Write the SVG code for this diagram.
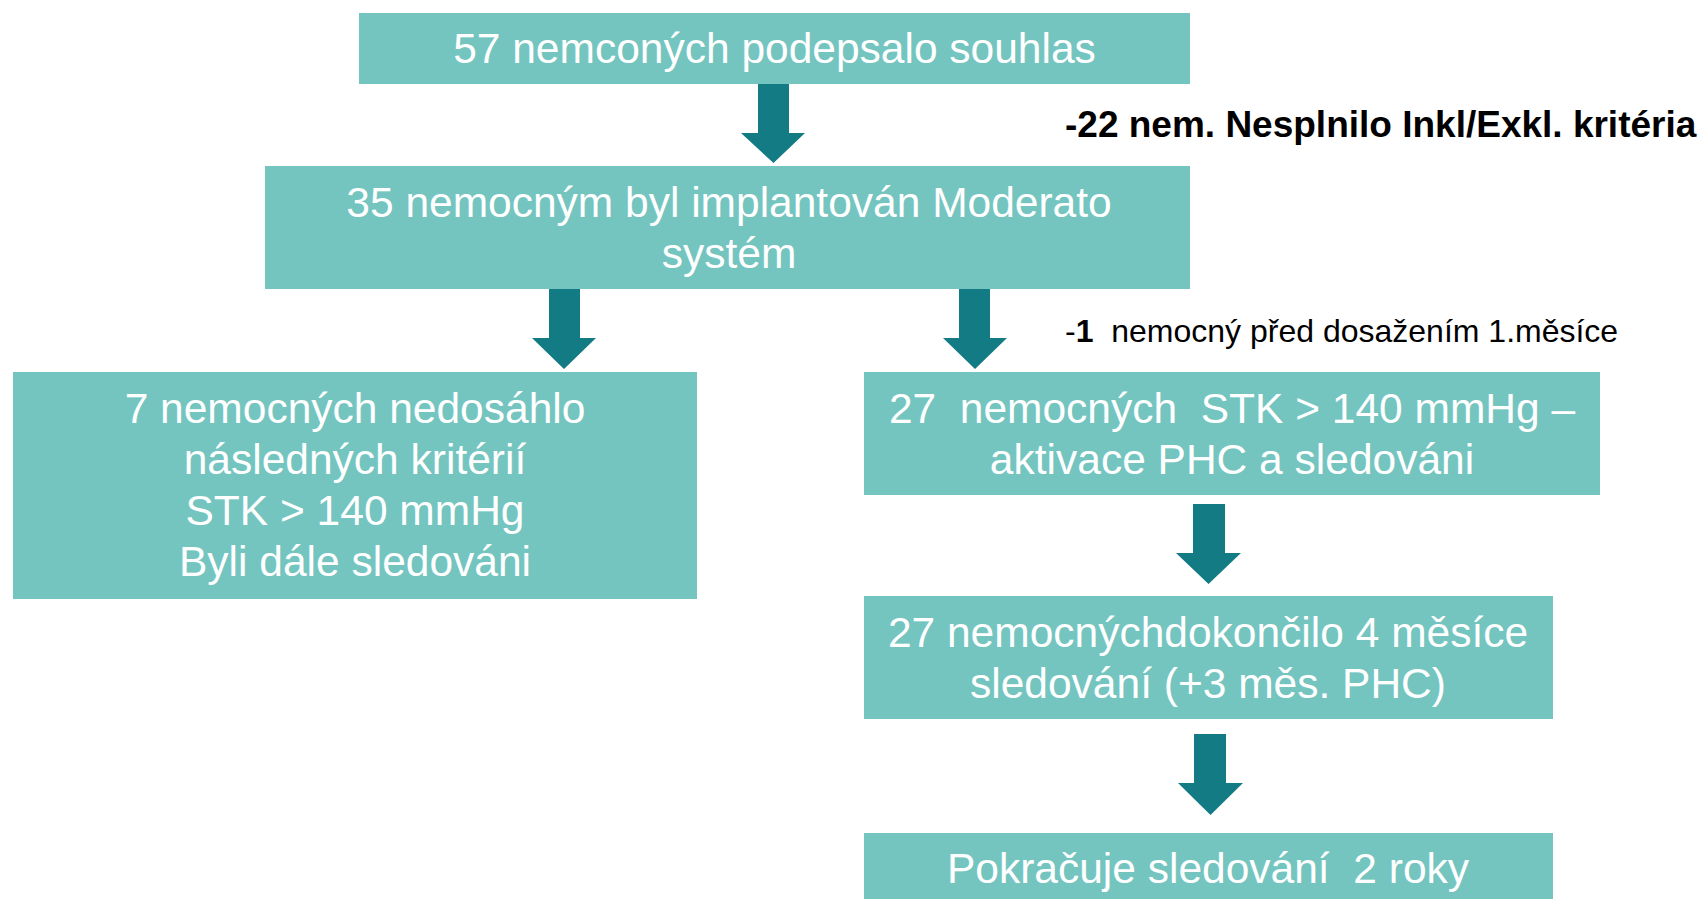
<svg xmlns="http://www.w3.org/2000/svg" width="1705" height="899" viewBox="0 0 1705 899">
<style>
.box{fill:#74C5C0}
.arr{fill:#127B84}
.t{font-family:"Liberation Sans",Arial,sans-serif;font-size:42.5px;fill:#fff;text-anchor:middle;white-space:pre}
.n{font-family:"Liberation Sans",Arial,sans-serif;fill:#000;white-space:pre}
</style>
<rect width="1705" height="899" fill="#fff"/>
<g id="connectors">
<polygon class="arr" points="758,83 789,83 789,133 805,133 773.5,163 741,133 758,133"/>
<polygon class="arr" points="549,289 580,289 580,338 596,338 564,369 532,338 549,338"/>
<polygon class="arr" points="959,289 990,289 990,338 1007,338 975,369 943,338 959,338"/>
<polygon class="arr" points="1193,504 1225,504 1225,553 1241,553 1208.5,584 1176,553 1193,553"/>
<polygon class="arr" points="1194,734 1226,734 1226,783 1243,783 1210.5,815 1178,783 1194,783"/>
</g>
<g id="n1">
<rect class="box" x="359" y="13" width="831" height="71"/>
<text class="t" x="774.5" y="63">57 nemconých podepsalo souhlas</text>
</g>
<g id="n2">
<rect class="box" x="265" y="166" width="925" height="123"/>
<text class="t" x="729" y="217">35 nemocným byl implantován Moderato</text>
<text class="t" x="729" y="268">systém</text>
</g>
<g id="n3">
<rect class="box" x="13" y="372" width="684" height="227"/>
<text class="t" x="355" y="423">7 nemocných nedosáhlo</text>
<text class="t" x="355" y="474">následných kritérií</text>
<text class="t" x="355" y="525">STK &gt; 140 mmHg</text>
<text class="t" x="355" y="576">Byli dále sledováni</text>
</g>
<g id="n4">
<rect class="box" x="864" y="372" width="736" height="123"/>
<text class="t" x="1232" y="423">27  nemocných  STK &gt; 140 mmHg –</text>
<text class="t" x="1232" y="474">aktivace PHC a sledováni</text>
</g>
<g id="n5">
<rect class="box" x="864" y="596" width="689" height="123"/>
<text class="t" x="1208" y="647">27 nemocnýchdokončilo 4 měsíce</text>
<text class="t" x="1208" y="698">sledování (+3 měs. PHC)</text>
</g>
<g id="n6">
<rect class="box" x="864" y="833" width="689" height="66"/>
<text class="t" x="1208" y="883">Pokračuje sledování  2 roky</text>
</g>
<g id="labels">
<text class="n" x="1065" y="137" font-size="37" font-weight="bold">-22 nem. Nesplnilo Inkl/Exkl. kritéria</text>
<text class="n" x="1065" y="342" font-size="32">-<tspan font-weight="bold">1</tspan>  nemocný před dosažením 1.měsíce</text>
</g>
</svg>
